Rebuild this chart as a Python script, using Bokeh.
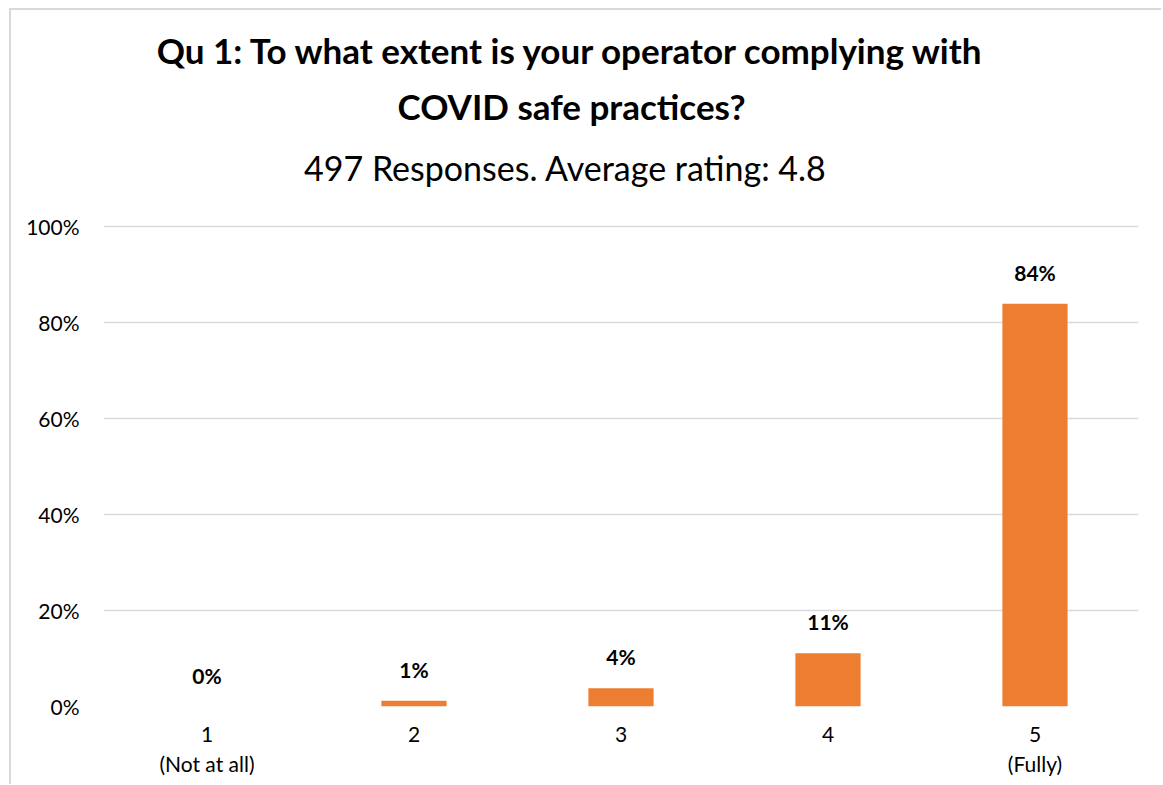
from bokeh.plotting import figure
from bokeh.models import Label, NumeralTickFormatter, FixedTicker, Range1d, CategoricalAxis, FactorRange
from bokeh.core.properties import value
from bokeh.embed import file_html
from bokeh.resources import INLINE

categories = ["1", "2", "3", "4", "5"]
category_sublabels = ["(Not at all)", " ", "  ", "   ", "(Fully)"]
shares = [0.0, 0.012, 0.038, 0.111, 0.839]
share_labels = ["0%", "1%", "4%", "11%", "84%"]
y_ticks = [0.0, 0.2, 0.4, 0.6, 0.8, 1.0]

title_line1 = "Qu 1: To what extent is your operator complying with"
title_line2 = "COVID safe practices?"
subtitle = "497 Responses. Average rating: 4.8"

FONT = "Lato"
TXT = "#000000"

# frame reaches up to the top of the canvas so the titles can sit inside it
p = figure(x_range=categories, y_range=Range1d(0, 1.45), width=1152, height=776,
           output_backend="svg", toolbar_location=None,
           min_border_left=92, min_border_right=25, min_border_top=0, min_border_bottom=80)
p.styles = {"margin-left": "9px", "margin-top": "8px",
            "border-left": "2px solid #d9d9d9", "border-top": "2px solid #d9d9d9"}
p.outline_line_color = None
p.background_fill_color = "white"
p.border_fill_color = "white"
p.extra_x_ranges = {"sub": FactorRange(factors=category_sublabels)}

p.vbar(x=categories, top=shares, width=0.315, fill_color="#ED7D31", line_color=None)

p.text(x=categories, y=shares, text=share_labels, y_offset=-19,
       text_align="center", text_baseline="bottom",
       text_font=value(FONT), text_font_style="bold", text_font_size="21px",
       text_color=TXT)

p.yaxis.ticker = FixedTicker(ticks=y_ticks)
p.yaxis.formatter = NumeralTickFormatter(format="0%")
p.yaxis.axis_line_color = None
p.yaxis.major_tick_line_color = None
p.yaxis.minor_tick_line_color = None
p.yaxis.major_label_standoff = 18
p.yaxis.major_label_text_font = FONT
p.yaxis.major_label_text_font_size = "21px"
p.yaxis.major_label_text_color = TXT

ax = p.xaxis[0]
ax.axis_line_color = None
ax.major_tick_line_color = None
ax.major_label_standoff = 14
ax.major_label_text_font = FONT
ax.major_label_text_font_size = "21px"
ax.major_label_text_color = TXT

ax2 = CategoricalAxis(x_range_name="sub", axis_line_color=None, major_tick_line_color=None,
                      major_label_standoff=0, major_label_text_font=FONT,
                      major_label_text_font_size="21px", major_label_text_color=TXT)
p.add_layout(ax2, "below")

p.xgrid.grid_line_color = None
p.ygrid.ticker = FixedTicker(ticks=y_ticks)
p.ygrid.grid_line_color = "#d9d9d9"
p.ygrid.grid_line_width = 1.5

for txt, x, y, size, style in [
    (title_line1, 468, 657, "35px", "bold"),
    (title_line2, 468, 601, "35px", "bold"),
    (subtitle, 462, 539, "34px", "normal"),
]:
    p.add_layout(Label(x=x, y=y, x_units="screen", y_units="screen", text=txt,
                       text_align="center", text_baseline="alphabetic",
                       text_font=FONT, text_font_size=size, text_font_style=style,
                       text_color=TXT))

open("out.html", "w").write(file_html(p, INLINE))
